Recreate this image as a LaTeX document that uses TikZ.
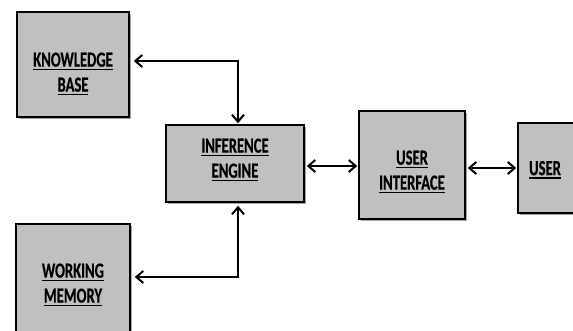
\documentclass[tikz,border=0pt]{standalone}
\usepackage{fontspec}
\newfontfamily\lbl[FakeStretch=0.68,FakeBold=0.6]{Carlito}
\usetikzlibrary{arrows.meta,shadows}
\definecolor{boxgray}{RGB}{192,192,192}
% underlined label word with a heavier rule
\newcommand\ulabel[1]{\leavevmode\setbox0\hbox{#1}\rlap{\rule[-3.8pt]{\wd0}{1.5pt}}\box0}
\tikzset{
  blockbox/.style={draw=black, line width=1.5pt, fill=boxgray, inner sep=0pt,
    drop shadow={shadow xshift=2pt, shadow yshift=-2pt, fill=gray, opacity=0.7}},
  blocktext/.style={align=center, inner sep=0pt,
    font=\lbl\bfseries\fontsize{21.5}{25}\selectfont},
  link/.style={line width=2pt, {Straight Barb[length=7pt,width=12pt]}-{Straight Barb[length=7pt,width=12pt]}}
}
\begin{document}
\begin{tikzpicture}[x=1pt,y=1pt]
\useasboundingbox (0,0) rectangle (573,-331);
\clip (0,0) rectangle (573,-331);
% boxes
\node[blockbox, minimum width=112pt, minimum height=105pt] (kb) at (73,-64.5) {};
\node[blockbox, minimum width=138pt, minimum height=77pt] (ie) at (235,-163.5) {};
\node[blockbox, minimum width=114pt, minimum height=121pt] (wm) at (73,-284.5) {};
\node[blockbox, minimum width=106pt, minimum height=108pt] (ui) at (412,-165) {};
\node[blockbox, minimum width=56pt, minimum height=90pt] (usr) at (546,-168) {};
% labels
\node[blocktext] (kbt) at (73,-74) {\ulabel{KNOWLEDGE}\\\ulabel{BASE}};
\node[blocktext] (iet) at (235,-160) {\ulabel{INFERENCE}\\\ulabel{ENGINE}};
\node[blocktext] (wmt) at (73,-285) {\ulabel{WORKING}\\\ulabel{MEMORY}};
\node[blocktext] (uit) at (412,-172) {\ulabel{USER}\\\ulabel{INTERFACE}};
\node[blocktext] (usrt) at (545,-170) {\ulabel{USER}};
% connectors
\coordinate (c1) at (238,-61);
\coordinate (c2) at (238,-277);
\coordinate (c3) at (0,-166);
\coordinate (c4) at (0,-168);
\draw[link, shorten <=4pt, shorten >=1pt] (kb.east |- c1) -- (c1) -- (c1 |- ie.north);
\draw[link, shorten <=3pt, shorten >=4pt] (c2 |- ie.south) -- (c2) -- (wm.east |- c2);
\draw[link, shorten <=2pt, shorten >=1pt] (ie.east |- c3) -- (ui.west |- c3);
\draw[link, shorten <=2pt, shorten >=1pt] (ui.east |- c4) -- (usr.west |- c4);
\end{tikzpicture}
\end{document}
